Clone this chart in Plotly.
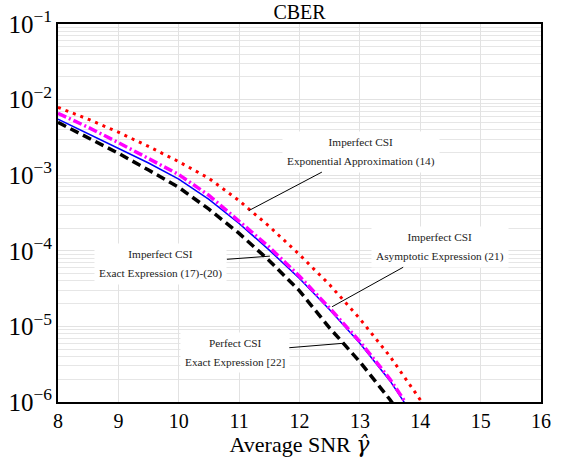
import plotly.graph_objects as go
import numpy as np

# ---- data (BER vs average SNR) ----
snr_perfect = [8, 8.5, 9, 9.5, 10, 10.5, 11, 11.5, 12, 12.5, 13, 13.5, 13.6]
ber_perfect = [5.0e-3, 3.16e-3, 1.95e-3, 1.17e-3, 6.9e-4, 3.55e-4, 1.7e-4, 7.4e-5,
               2.95e-5, 9.5e-6, 3.4e-6, 1.07e-6, 8.3e-7]

snr_exact = [8, 8.5, 9, 9.5, 10, 10.5, 11, 11.5, 12, 12.5, 13, 13.5, 13.75]
ber_exact = [5.5e-3, 3.55e-3, 2.29e-3, 1.45e-3, 8.9e-4, 4.8e-4, 2.3e-4, 1.02e-4,
             4.3e-5, 1.66e-5, 6.0e-6, 1.9e-6, 9.5e-7]

snr_asym = [8, 8.5, 9, 9.5, 10, 10.5, 11, 11.5, 12, 12.5, 13, 13.5, 13.75]
ber_asym = [6.6e-3, 4.3e-3, 2.7e-3, 1.66e-3, 1.02e-3, 5.4e-4, 2.5e-4, 1.12e-4,
            4.6e-5, 1.74e-5, 6.3e-6, 2.0e-6, 1.0e-6]

snr_expo = [8, 8.5, 9, 9.5, 10, 10.5, 11, 11.5, 12, 12.5, 13, 13.5, 14, 14.1]
ber_expo = [7.9e-3, 5.5e-3, 3.7e-3, 2.4e-3, 1.51e-3, 9.1e-4, 4.6e-4, 2.1e-4,
            8.9e-5, 3.55e-5, 1.26e-5, 4.0e-6, 1.07e-6, 7.9e-7]

x_ticks = [8, 9, 10, 11, 12, 13, 14, 15, 16]

labels = [
    ("Imperfect CSI", "Exponential Approximation (14)"),
    ("Imperfect CSI", "Exact Expression (17)-(20)"),
    ("Imperfect CSI", "Asymptotic Expression (21)"),
    ("Perfect CSI", "Exact Expression [22]"),
]
# arrow heads (data x, BER) and text offsets (pixels)
label_heads = [(11.16, 3.4e-4), (11.51, 8.5e-5), (12.54, 1.82e-5), (12.75, 6.0e-6)]
label_offsets = [(112, -59), (-109, 8), (108, -60), (-110, 9)]

fig = go.Figure()
fig.add_trace(go.Scatter(x=snr_perfect, y=ber_perfect, mode="lines",
                         line=dict(color="black", width=3.5, dash="9px,5px")))
fig.add_trace(go.Scatter(x=snr_exact, y=ber_exact, mode="lines",
                         line=dict(color="#0000ff", width=1.5)))
fig.add_trace(go.Scatter(x=snr_asym, y=ber_asym, mode="lines",
                         line=dict(color="#ff00ff", width=3.5, dash="9px,3px,2px,3px")))
fig.add_trace(go.Scatter(x=snr_expo, y=ber_expo, mode="lines",
                         line=dict(color="#ff0000", width=3, dash="3px,5px")))

for (l1, l2), (hx, hy), (ox, oy) in zip(labels, label_heads, label_offsets):
    fig.add_annotation(
        x=hx, y=np.log10(hy), xref="x", yref="y",
        ax=ox, ay=oy, showarrow=True, arrowhead=0, arrowwidth=1, arrowcolor="black",
        text=f"<span style='font-size:11.3px'>{l1}</span><br><span style='font-size:11.3px'>{l2}</span>",
        font=dict(family="Liberation Serif", size=14.5, color="#222"),
        bgcolor="white", borderpad=4, align="center",
    )

axis_common = dict(showline=True, linecolor="black", linewidth=2, mirror=True,
                   ticks="", zeroline=False, gridcolor="#e2e2e2", gridwidth=1,
                   automargin=False,
                   tickfont=dict(family="Liberation Serif", size=20, color="black"))

fig.update_xaxes(range=[8, 16], tickvals=x_ticks, showgrid=True,
                 title=dict(text="Average SNR <span style='font-family:DejaVu Serif'><i>γ̂</i></span>",
                            standoff=2,
                            font=dict(family="Liberation Serif", size=22, color="black")),
                 **axis_common)
fig.update_yaxes(type="log", range=[-6, -1], dtick=1, exponentformat="power",
                 showgrid=True,
                 minor=dict(dtick="D1", showgrid=True, gridcolor="#e6e6e6", ticks=""),
                 **axis_common)

fig.update_layout(
    width=561, height=461,
    margin=dict(l=58, r=20, t=24, b=59),
    paper_bgcolor="white", plot_bgcolor="white",
    showlegend=False,
    font=dict(family="Liberation Serif", color="black"),
    title=dict(text="CBER", x=0.5, xref="paper", xanchor="center",
               y=1 - 12 / 461, yref="container", yanchor="middle",
               font=dict(family="Liberation Serif", size=20, color="black")),
)

fig.write_html("out.html", config={"displayModeBar": False},
               post_script="document.body.style.margin='0px';")
